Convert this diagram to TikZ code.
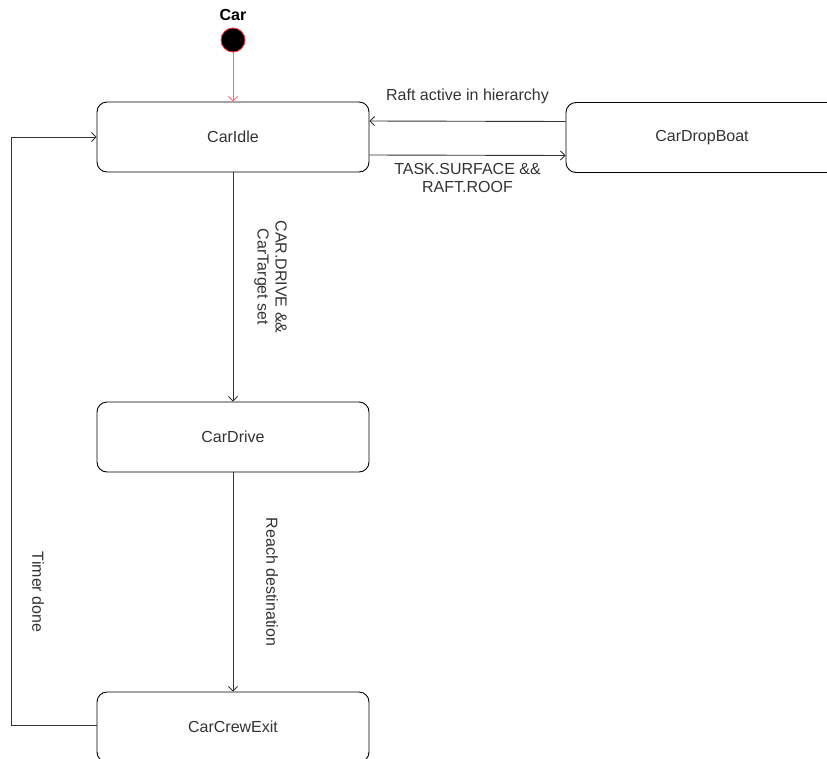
\documentclass[tikz,border=0pt]{standalone}
\usepackage{fontspec}
\setmainfont{Liberation Sans}
\usetikzlibrary{arrows.meta}
\definecolor{ink}{HTML}{333333}
\definecolor{startred}{HTML}{FF3333}
\definecolor{startarrow}{HTML}{FF6666}
\tikzset{
  state/.style={draw=black, line width=0.9pt, rounded corners=10pt,
    minimum width=272pt, minimum height=70pt, inner sep=0pt,
    text=ink, font=\fontsize{16}{18}\selectfont},
  edge/.style={draw=ink, line width=0.9pt,
    -{Straight Barb[length=4.5pt, width=9pt, line width=0.9pt]}},
  lbl/.style={text=ink, font=\fontsize{16}{18}\selectfont, align=center, inner sep=0pt}
}
\begin{document}
\begin{tikzpicture}[x=1pt, y=-1pt]
  \clip (0,0) rectangle (827,758);

  % initial pseudo-state
  \node[font=\bfseries\fontsize{16}{18}\selectfont, text=black] (carlbl) at (233,15) {Car};
  \node[circle, fill=black, draw=startred, line width=0.9pt,
        minimum size=24pt, inner sep=0pt] (init) at (233,40) {};

  % states
  \node[state] (idle)  at (233,137) {CarIdle};
  \node[state] (drop)  at (702,137.5) {CarDropBoat};
  \node[state] (drive) at (233,437) {CarDrive};
  \node[state] (exit)  at (233,727) {CarCrewExit};

  % transitions
  \draw[edge, draw=startarrow] (init) -- (idle.north);

  \draw[edge] ([yshift=16pt]drop.west) -- ([yshift=16pt]idle.east)
    node[lbl, midway, yshift=25pt] {Raft active in hierarchy};

  \draw[edge] ([yshift=-18pt]idle.east) -- ([yshift=-18pt]drop.west)
    node[lbl, midway, yshift=-23pt] {TASK.SURFACE \&\&\\RAFT.ROOF};

  \draw[edge] (idle) -- (drive)
    node[lbl, midway, xshift=37.5pt, yshift=10pt, rotate=-90] {CAR.DRIVE \&\&\\CarTarget set};

  \draw[edge] (drive) -- (exit)
    node[lbl, midway, xshift=39pt, rotate=-90] {Reach destination};

  \coordinate (bend1) at (11.5,725);
  \coordinate (bend2) at (11.5,137);
  \draw[edge] ([yshift=2pt]exit.west) -- (bend1) -- (bend2)
    node[lbl, pos=0.226, xshift=26.5pt, rotate=-90] {Timer done}
    -- (idle.west);
\end{tikzpicture}
\end{document}
